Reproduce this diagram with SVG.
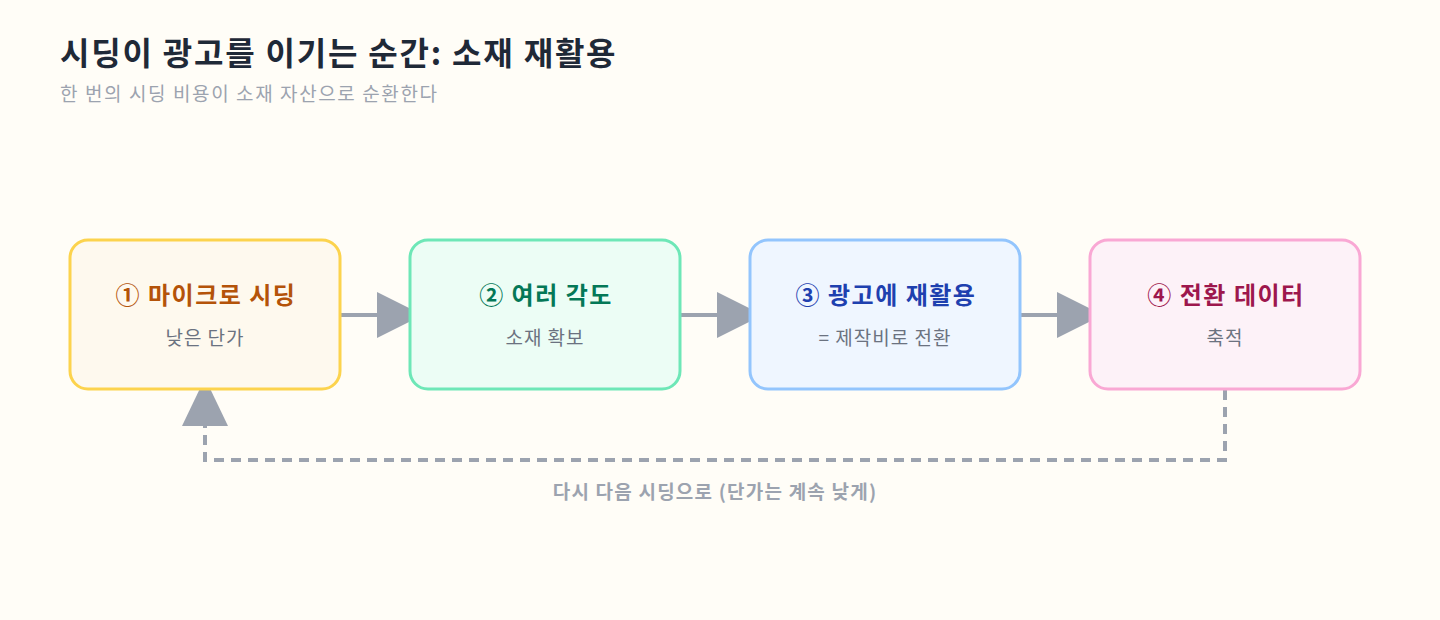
<svg xmlns="http://www.w3.org/2000/svg" width="1440" height="620" viewBox="0 0 1440 620">
<style>
text{font-family:"Noto Sans CJK KR","Noto Sans",sans-serif}
.t{font-size:24px;font-weight:700;text-anchor:middle;letter-spacing:1.5px}
.s{font-size:19px;fill:#6b7280;text-anchor:middle;letter-spacing:1px}
.e{stroke:#9ca3af;stroke-width:4;fill:none}
</style>
<defs><marker id="a" markerUnits="userSpaceOnUse" markerWidth="48" markerHeight="48" refX="46" refY="23" orient="auto"><path d="M0,0L46,23L0,46Z" fill="#9ca3af"/></marker></defs>
<rect width="1440" height="620" fill="#fffdf7"/>
<text x="60" y="65" font-size="32" font-weight="700" fill="#1f2937" letter-spacing="1.8">시딩이 광고를 이기는 순간: 소재 재활용</text>
<text x="60" y="101" font-size="19" fill="#9ca3af" letter-spacing="1.6">한 번의 시딩 비용이 소재 자산으로 순환한다</text>
<g id="connectors">
<line class="e" x1="340" y1="315" x2="423" y2="315" marker-end="url(#a)"/>
<line class="e" x1="680" y1="315" x2="763" y2="315" marker-end="url(#a)"/>
<line class="e" x1="1020" y1="315" x2="1103" y2="315" marker-end="url(#a)"/>
<path class="e" stroke-width="3" stroke-dasharray="10,7" d="M1225,390V460H205V426"/>
<path d="M182,426L205,378L228,426Z" fill="#9ca3af"/>
<text x="715" y="499" font-size="19" font-weight="700" fill="#9ca3af" text-anchor="middle" letter-spacing="1.2">다시 다음 시딩으로 (단가는 계속 낮게)</text>
</g>
<g id="n1"><rect x="70" y="240" width="270" height="149" rx="18" fill="#fef9ee" stroke="#fcd34d" stroke-width="3"/><text class="t" x="206" y="304" fill="#b45309">① 마이크로 시딩</text><text class="s" x="205" y="345">낮은 단가</text></g>
<g id="n2"><rect x="410" y="240" width="270" height="149" rx="18" fill="#ecfdf5" stroke="#6ee7b7" stroke-width="3"/><text class="t" x="546" y="304" fill="#047857">② 여러 각도</text><text class="s" x="545" y="345">소재 확보</text></g>
<g id="n3"><rect x="750" y="240" width="270" height="149" rx="18" fill="#eff6ff" stroke="#93c5fd" stroke-width="3"/><text class="t" x="886" y="304" fill="#1e40af">③ 광고에 재활용</text><text class="s" x="885" y="345">= 제작비로 전환</text></g>
<g id="n4"><rect x="1090" y="240" width="270" height="149" rx="18" fill="#fdf2f8" stroke="#f9a8d4" stroke-width="3"/><text class="t" x="1226" y="304" fill="#9d174d">④ 전환 데이터</text><text class="s" x="1225" y="345">축적</text></g>
</svg>
